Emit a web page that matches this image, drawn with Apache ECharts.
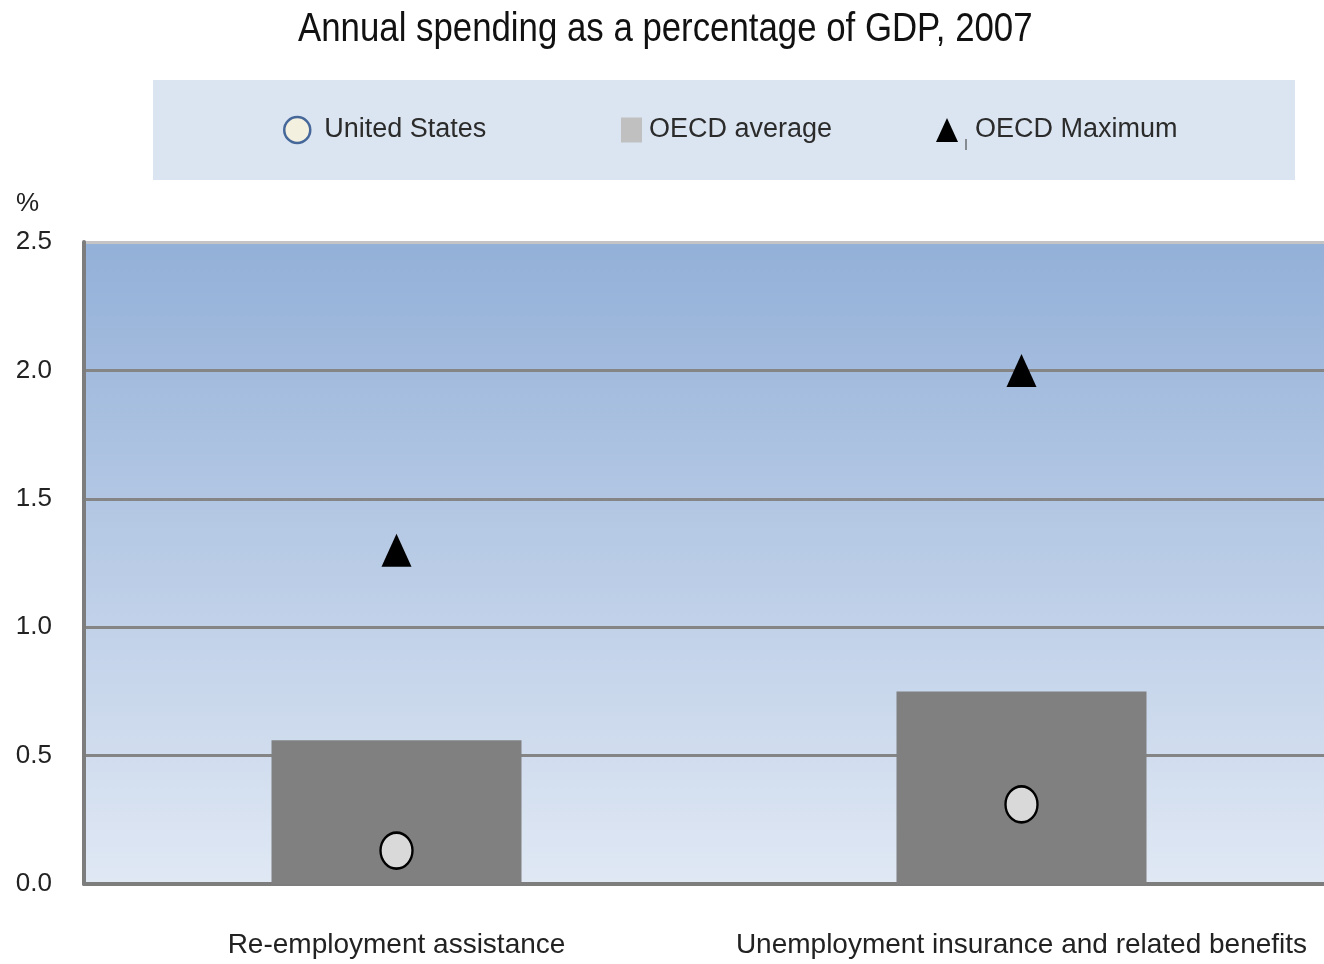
<!DOCTYPE html>
<html>
<head>
<meta charset="utf-8">
<title>Annual spending as a percentage of GDP, 2007</title>
<script src="https://cdn.jsdelivr.net/npm/echarts@6/dist/echarts.min.js"></script>
<style>
  html, body { margin: 0; padding: 0; background: #ffffff; }
  #chart { width: 1324px; height: 964px; }
</style>
</head>
<body>
<div id="chart"></div>
<script>
// Spending programmes (categories) and their values, % of GDP
const categories = ['Re-employment assistance', 'Unemployment insurance and related benefits'];
const oecdAverage = [0.56, 0.75];
const oecdMaximum = [1.30, 2.00];
const unitedStates = [0.13, 0.31];
const yTicks = [0, 0.5, 1.0, 1.5, 2.0, 2.5];

const FONT = '"Liberation Sans", Arial, sans-serif';
const gridGray = '#858585';

const chart = echarts.init(document.getElementById('chart'), null, { renderer: 'canvas' });

const legendText = { color: '#2b2b2b', fontSize: 27, fontFamily: FONT, lineHeight: 32 };

chart.setOption({
  backgroundColor: '#ffffff',
  animation: false,
  graphic: [
    // chart title, set in a condensed width
    { type: 'text', x: 298, y: 10, scaleX: 0.87,
      style: { text: 'Annual spending as a percentage of GDP, 2007', fill: '#111111',
        fontSize: 40, fontFamily: FONT } },
    // legend panel
    { type: 'rect', left: 153, top: 80, shape: { width: 1142, height: 100 },
      style: { fill: '#dbe5f1' }, z: -1 },
    { type: 'line', shape: { x1: 966, y1: 139, x2: 966, y2: 150 },
      style: { stroke: '#333333', lineWidth: 1 } },
    // unit label above the value axis
    { type: 'text', left: 16, top: 191,
      style: { text: '%', fill: '#222222', fontSize: 26, fontFamily: FONT } }
  ],
  legend: [
    {
      left: 283, top: 114, padding: 0, itemWidth: 26, itemHeight: 26,
      selectedMode: false,
      data: [{ name: 'United States', icon: 'circle',
        itemStyle: { color: '#f4f0e0', borderColor: '#46679a', borderWidth: 2.5, opacity: 1 } }],
      textStyle: Object.assign({ padding: [0, 0, 0, 9] }, legendText)
    },
    {
      left: 621, top: 114, padding: 0, itemWidth: 21, itemHeight: 25,
      selectedMode: false,
      data: [{ name: 'OECD average', icon: 'rect',
        itemStyle: { color: '#c0c0c0', borderWidth: 0 } }],
      textStyle: Object.assign({ padding: [0, 0, 0, 2] }, legendText)
    },
    {
      left: 936, top: 114, padding: 0, itemWidth: 22, itemHeight: 24,
      selectedMode: false,
      data: [{ name: 'OECD Maximum', icon: 'triangle',
        itemStyle: { color: '#000000', borderWidth: 0, opacity: 1 } }],
      textStyle: Object.assign({ padding: [0, 0, 0, 12] }, legendText)
    }
  ],
  grid: {
    left: 84, top: 242, width: 1250, bottom: 80,
    outerBoundsMode: 'none',
    containLabel: false,
    show: true,
    borderWidth: 0,
    backgroundColor: new echarts.graphic.LinearGradient(0, 0, 0, 1, [
      { offset: 0, color: '#93b0d8' },
      { offset: 1, color: '#e0e8f4' }
    ])
  },
  xAxis: {
    type: 'category',
    data: categories,
    boundaryGap: true,
    axisLine: { show: true, lineStyle: { color: '#7d7d7d', width: 4 } },
    axisTick: { show: false },
    axisLabel: { color: '#222222', fontSize: 28, fontFamily: FONT, margin: 47, interval: 0 },
    splitLine: { show: false }
  },
  yAxis: {
    type: 'value',
    min: yTicks[0],
    max: yTicks[yTicks.length - 1],
    interval: 0.5,
    axisLine: { show: true, lineStyle: { color: '#7d7d7d', width: 4 } },
    axisTick: { show: false },
    axisLabel: {
      color: '#222222', fontSize: 26, fontFamily: FONT, margin: 32,
      formatter: v => v.toFixed(1)
    },
    splitLine: {
      show: true,
      lineStyle: { color: [gridGray, gridGray, gridGray, gridGray, gridGray, '#c4c4c4'], width: 3 }
    }
  },
  series: [
    {
      name: 'OECD average',
      type: 'bar',
      data: oecdAverage,
      barWidth: 250,
      itemStyle: { color: '#808080' },
      z: 2
    },
    {
      name: 'OECD Maximum',
      type: 'scatter',
      data: oecdMaximum,
      symbol: 'triangle',
      symbolSize: [30, 33],
      itemStyle: { color: '#000000', opacity: 1 },
      z: 4
    },
    {
      name: 'United States',
      type: 'scatter',
      data: unitedStates,
      symbol: 'circle',
      symbolSize: [32, 36],
      itemStyle: { color: '#d9d9d9', borderColor: '#000000', borderWidth: 2.5, opacity: 1 },
      z: 5
    }
  ]
});
</script>
</body>
</html>
